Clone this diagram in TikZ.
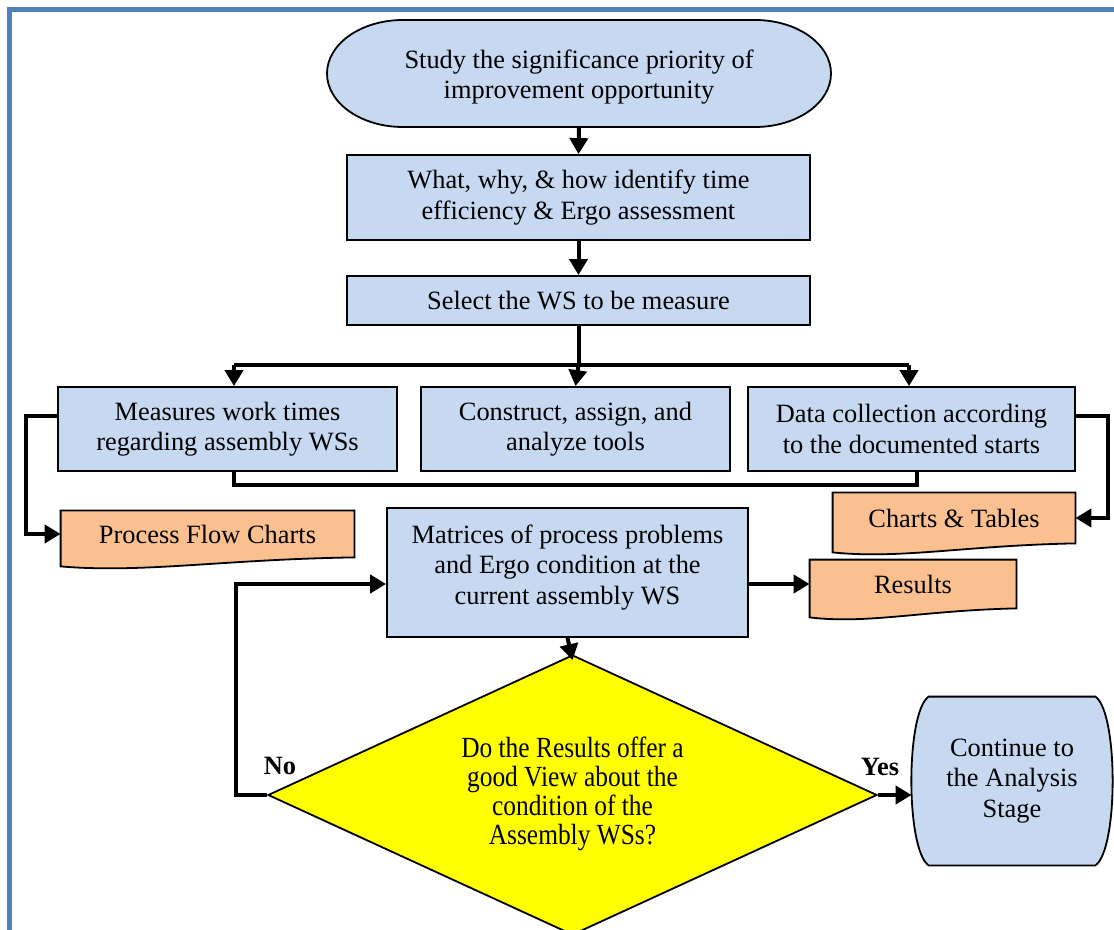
\documentclass[tikz,border=0pt]{standalone}
\usepackage{fontspec}
\setmainfont{Liberation Serif}
\usetikzlibrary{shapes.geometric,arrows.meta,calc,backgrounds}
\definecolor{boxblue}{RGB}{198,217,241}
\definecolor{docorange}{RGB}{250,192,144}
\definecolor{framecol}{RGB}{79,129,189}
\definecolor{decyellow}{RGB}{255,255,0}
\begin{document}
\begin{tikzpicture}[x=0.5pt,y=-0.5pt,
  txt/.style={align=center,font=\fontsize{13.2}{15.2}\selectfont},
  proc/.style={txt,draw=black,line width=0.9pt,fill=boxblue,inner sep=2pt},
  plain/.style={txt,inner sep=0pt},
  shapeline/.style={draw=black,line width=0.9pt},
  conn/.style={line width=2pt,draw=black},
  arrow/.style={conn,-{Triangle[length=8pt,width=9pt]}},
  lbl/.style={font=\bfseries\fontsize{13.2}{15}\selectfont,inner sep=0pt}
]
\useasboundingbox (0,0) rectangle (1114,930);
% frame
\draw[framecol,line width=2.5pt] (9.5,940) -- (9.5,9.3) -- (1120,9.3);

% start terminal
\filldraw[shapeline,fill=boxblue] (403,20) -- (755,20) arc[start angle=90,end angle=-90,x radius=38pt,y radius=26.75pt] -- (403,127) arc[start angle=270,end angle=90,x radius=38pt,y radius=26.75pt] -- cycle;
\node[plain,minimum width=252pt,minimum height=50pt] (start) at (579,77) {Study the significance priority of\\improvement opportunity};

\node[proc,minimum width=231.5pt,minimum height=42.5pt] (what) at (578.5,197.5) {What, why, \& how identify time\\efficiency \& Ergo assessment};
\node[proc,minimum width=231.5pt,minimum height=24.5pt] (select) at (578.5,300.5) {Select the WS to be measure};

\node[proc,minimum width=169.5pt,minimum height=42pt] (meas) at (227.5,429) {Measures work times\\regarding assembly WSs};
\node[proc,minimum width=154.5pt,minimum height=42pt] (cons) at (575.5,429) {Construct, assign, and\\analyze tools};
\node[proc,minimum width=163.5pt,minimum height=42pt] (data) at (911.5,429) {Data collection according\\to the documented starts};

\node[proc,minimum width=180.5pt,minimum height=64.5pt,text depth=8pt] (matr) at (567.5,572.5) {Matrices of process problems\\and Ergo condition at the\\current assembly WS};

% document shapes
\node[plain,minimum width=146.5pt,minimum height=23pt] (pfc) at (207.5,534) {Process Flow Charts};
\node[plain,minimum width=121pt,minimum height=25pt] (ct) at (954,518) {Charts \& Tables};
\node[plain,minimum width=103pt,minimum height=24pt] (res) at (913,584) {Results};
\begin{scope}[on background layer]
\foreach \n in {pfc,ct,res}{
  \filldraw[shapeline,fill=docorange] (\n.north west) -- (\n.north east) -- (\n.south east)
    .. controls ($(\n.south east)!0.45!(\n.south west)+(0,-1pt)$) and ($(\n.south east)!0.72!(\n.south west)+(0,-8pt)$) ..
    ($(\n.south west)+(0,-4.5pt)$) -- cycle;
}
\end{scope}

% decision
\node[diamond,draw=black,line width=0.9pt,fill=decyellow,minimum width=304.5pt,minimum height=140pt,aspect=2.175,inner sep=0pt,font=\fontsize{12.7}{12.7}\selectfont] (dec) at (572.5,795) {\scalebox{1}[1.15]{\begin{tabular}{@{}c@{}}Do the Results offer a\\good View about the\\condition of the\\Assembly WSs?\end{tabular}}};

% end terminal
\node[plain,minimum width=100pt,minimum height=84pt] (end) at (1012,781) {Continue to\\the Analysis\\Stage};
\begin{scope}[on background layer]
\filldraw[shapeline,fill=boxblue] ($(end.north west)+(8.5pt,0)$) -- ($(end.north east)+(-8.5pt,0)$)
  .. controls ($(end.north east)+(3pt,-8pt)$) and ($(end.south east)+(3pt,8pt)$) .. ($(end.south east)+(-8.5pt,0)$)
  -- ($(end.south west)+(8.5pt,0)$)
  .. controls ($(end.south west)+(-3pt,8pt)$) and ($(end.north west)+(-3pt,-8pt)$) .. cycle;
\end{scope}

% labels
\node[lbl] (no) at (280,766) {No};
\node[lbl] (yes) at (880,767) {Yes};

% connectors
\draw[arrow] (start.south) -- (what.north);
\draw[arrow] (what.south) -- (select.north);
\coordinate (j) at (578.5,365);
\coordinate (j4) at (234,365);
\coordinate (j6) at (909,365);
\draw[conn] (select.south) -- (j);
\draw[conn] (j4) -- (j6);
\draw[arrow] (j4) -- (j4 |- meas.north);
\draw[arrow] (j) -- (cons.north);
\draw[arrow] (j6) -- (j6 |- data.north);

\coordinate (b4) at (234,485);
\coordinate (b6) at (917,485);
\draw[conn] (b4 |- meas.south) -- (b4) -- (b6) -- (b6 |- data.south);

\coordinate (l1) at (26,416);
\draw[arrow] (l1 -| meas.west) -- (l1) |- (pfc.west);
\coordinate (r1) at (1108,416);
\draw[arrow] (r1 -| data.east) -- (r1) |- (ct.east);

\draw[arrow] (res.west -| matr.east) -- (res.west);
\draw[arrow] (matr.south) -- ($(dec.north)+(0,-3pt)$);
\coordinate (nl) at (236,795);
\draw[arrow] (dec.west) -- (nl) |- (res.west -| matr.west);
\draw[arrow] (dec.east) -- (dec.east -| end.west);
\end{tikzpicture}
\end{document}
